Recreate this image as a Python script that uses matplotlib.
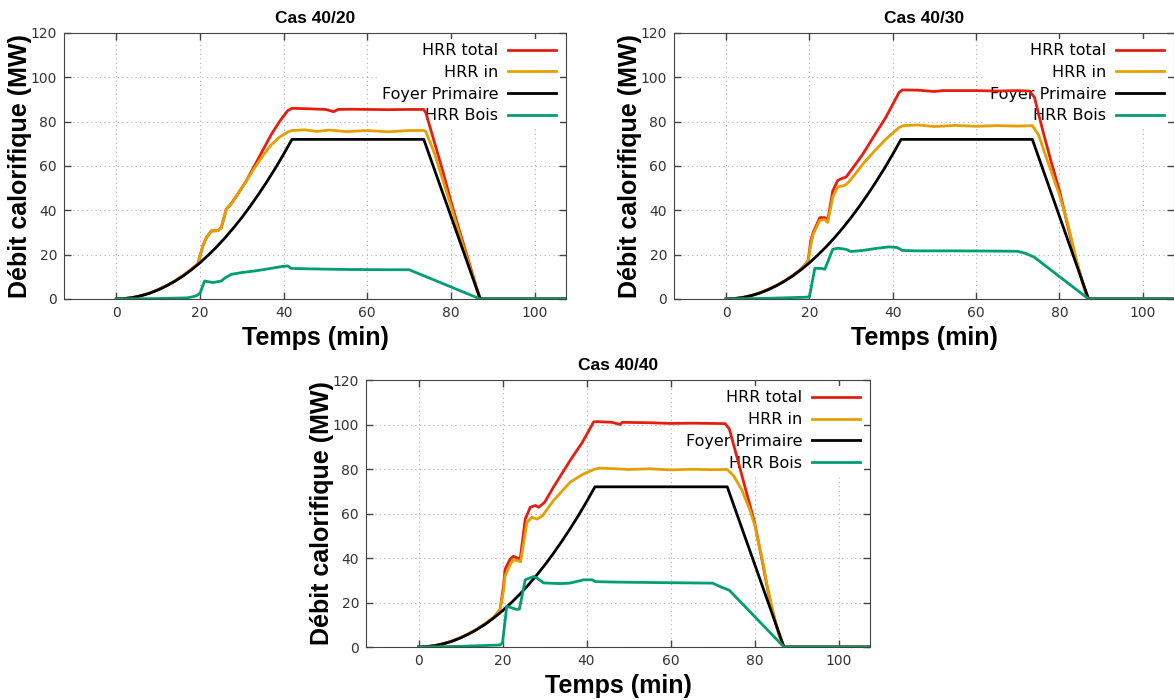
import matplotlib
matplotlib.use('Agg')
import matplotlib.pyplot as plt

# Foyer primaire : same design fire in the three cases
foyer_t = [0, 2, 4, 6, 8, 10, 12, 14, 16, 18, 20, 22, 24, 26, 28, 30, 32, 34, 36, 38, 40, 42, 73.5, 87, 108]
foyer = [0, 0.16, 0.65, 1.5, 2.6, 4.1, 5.9, 8.0, 10.4, 13.2, 16.3, 19.8, 23.5, 27.6, 32.0, 36.7, 41.8, 47.2, 52.9, 58.9, 65.3, 72, 72, 0, 0]

# start of HRR total / HRR in (follows the foyer curve before the wood ignites)
early_t = [0, 2, 4, 6, 8, 10, 12, 14, 16, 18]
early = [0, 0.2, 0.7, 1.5, 2.7, 4.2, 6.0, 8.1, 10.6, 13.5]

# Cas 40/20
tot20_t = early_t + [19.5, 20.7, 21.5, 22.7, 24.3, 25.1, 26.3, 27.5, 29, 31, 33, 35, 37, 39, 41, 42,
                     46, 50, 52, 53, 56, 60, 65, 70, 73.5, 74, 76, 78, 80, 82, 84, 86, 87, 108]
tot20 = early + [15.8, 24, 27.5, 30.7, 30.8, 32.2, 40.5, 43, 47.2, 53, 60, 67, 74, 80, 85, 86,
                 85.8, 85.5, 84.5, 85.5, 85.6, 85.5, 85.4, 85.5, 85.5, 84, 71, 58, 44, 31, 18.5, 6, 0, 0]
in20_t = early_t + [19.5, 20.7, 21.5, 22.7, 24.3, 25.1, 26.3, 27.5, 29, 31, 33, 35, 37, 39, 41, 42,
                    45, 48, 51, 55, 60, 65, 70, 73.5, 74, 76, 78, 80, 82, 84, 86, 87, 108]
in20 = early + [15.8, 24, 27.5, 30.7, 30.8, 32.2, 40.5, 43, 47.2, 53, 59, 64.5, 69.5, 73, 75.3, 76,
                76.3, 75.6, 76.2, 75.5, 76, 75.4, 76, 76, 75.5, 66, 54, 42, 29.5, 17.5, 5.5, 0, 0]
bois20_t = [0, 10, 17, 19, 20, 21.1, 23.1, 25.1, 26, 27.5, 29.9, 33, 37, 39.4, 41, 41.8, 45.7, 55, 65, 70, 87, 108]
bois20 = [0, 0.2, 0.5, 1.3, 2.5, 8.1, 7.4, 8.1, 9.5, 11.1, 11.9, 12.6, 13.8, 14.6, 14.9, 13.8, 13.6, 13.3, 13.2, 13.2, 0, 0]

# Cas 40/30
tot30_t = early_t + [19.7, 20.3, 20.9, 22.5, 23.7, 24.4, 25.6, 26.8, 28, 28.8, 30, 32.8, 35.5, 38.3, 41.5, 42.3,
                     46, 50, 52, 60, 65, 70, 72.8, 74, 76, 78, 80, 82, 84, 86, 86.8, 108]
tot30 = early + [17.1, 26, 30, 36.7, 36.7, 35.5, 48.7, 53.5, 54.5, 55, 58, 65.3, 73.5, 81.8, 93.1, 94.3,
                 94.2, 93.6, 94, 94, 93.8, 94, 93.8, 91, 76, 62, 49, 33, 17.5, 4.5, 0, 0]
in30_t = early_t + [19.7, 20.3, 20.9, 22.5, 23.7, 24.4, 25.6, 26.8, 28, 28.8, 30, 32.8, 35.5, 38.3, 41.5, 42.5,
                    46, 50, 55, 60, 65, 70, 73.5, 75, 77, 80, 82, 84, 86, 86.8, 108]
in30 = early + [17.1, 24, 29.2, 35.5, 35.8, 34.5, 46, 50.5, 51, 51.6, 54, 60.8, 66.5, 72, 77.3, 78.2,
                78.5, 77.8, 78.3, 77.9, 78.2, 78, 78.2, 74, 63, 47, 34, 18, 4.5, 0, 0]
bois30_t = [0, 10, 19.3, 20, 21.3, 22.9, 23.7, 25.6, 26.8, 28.8, 29.9, 32.8, 36, 39.1, 41.1, 42.3, 45.5, 55, 65, 70, 72, 74, 87, 108]
bois30 = [0, 0.3, 0.8, 1, 13.8, 13.8, 13.4, 22.4, 22.9, 22.4, 21.4, 21.9, 22.8, 23.5, 23.2, 21.9, 21.7, 21.7, 21.6, 21.5, 20.5, 18.8, 0, 0]

# Cas 40/40
tot40_t = early_t + [19.4, 20.2, 20.6, 21.8, 22.6, 23.3, 24.2, 25.4, 26.6, 27.8, 28.6, 30, 32.1, 36.1, 39, 41.7, 42.5,
                     46, 48, 48.5, 55, 60, 65, 70, 73, 74, 76, 78, 79, 80, 82, 83, 84, 85, 86, 87, 108]
tot40 = early + [16.8, 27, 34.9, 39.5, 40.8, 40.2, 39.5, 57.5, 62.8, 63.6, 62.8, 65, 71.8, 83.9, 92, 101.2, 101.3,
                 101, 100, 101, 100.8, 100.5, 100.6, 100.5, 100.4, 98, 84, 70, 63, 56, 37, 27, 18.5, 11, 4.5, 0, 0]
in40_t = early_t + [19.4, 20.2, 20.6, 21.8, 22.6, 23.8, 24.3, 25.8, 27, 28.2, 29.5, 32.1, 36.1, 39, 41.7, 43,
                    46, 50, 55, 60, 65, 70, 73.5, 75, 77, 79, 80, 82, 83, 84, 85, 86, 87, 108]
in40 = early + [16.8, 25, 31.9, 37, 39.2, 38.7, 38.3, 56, 58.3, 57.5, 59, 65.8, 74.1, 77.5, 79.8, 80.4,
                80.2, 79.8, 80.1, 79.6, 79.9, 79.7, 79.8, 77, 70.5, 61, 55, 38, 27.5, 19, 11, 4.5, 0, 0]
bois40_t = [0, 10, 19.4, 20, 21, 22.2, 23.3, 24, 25.4, 27.4, 28.2, 29.8, 33.7, 36, 39.3, 41.3, 42.1, 46.4, 55, 65, 70, 72, 74, 87, 108]
bois40 = [0, 0.3, 0.9, 2, 18.3, 17.6, 16.9, 17, 30.2, 31.7, 31, 28.8, 28.5, 28.7, 30.2, 30.2, 29.4, 29.2, 29, 28.8, 28.7, 27, 25.5, 0, 0]

label_font = 'Liberation Sans'


def draw_case(ax, title, tot_t, tot, in_t, hrr_in, bois_t, bois):
    ax.plot(tot_t, tot, color='#e51e10', lw=2, label='HRR total')
    ax.plot(in_t, hrr_in, color='#e69f00', lw=2, label='HRR in')
    ax.plot(foyer_t, foyer, color='black', lw=2, label='Foyer Primaire')
    ax.plot(bois_t, bois, color='#009e73', lw=2, label='HRR Bois')

    ax.set_xlim(-12.5, 107.5)
    ax.set_ylim(0, 120)
    ax.set_xticks(range(0, 101, 20))
    ax.set_yticks(range(0, 121, 20))
    ax.grid(True, color='#b0b0b0', linestyle=(0, (1, 3)), lw=0.8)
    ax.set_axisbelow(True)
    ax.tick_params(direction='in', top=True, right=True, length=5, width=1,
                   labelsize=10, labelcolor='#333333', color='#444444', pad=5)
    for s in ax.spines.values():
        s.set_color('#444444')

    ax.set_title(title, fontsize=12.5, fontweight='bold', family=label_font, pad=7)
    ax.set_xlabel('Temps (min)', fontsize=18, fontweight='bold', family=label_font)
    ax.set_ylabel('Débit calorifique (MW)', fontsize=18, fontweight='bold', family=label_font)
    ax.xaxis.set_label_coords(0.5, -0.1)
    ax.yaxis.set_label_coords(-0.063, 0.5)

    # key on the right, labels right aligned, lines drawn over it
    leg = ax.legend(loc='upper right', markerfirst=False, facecolor='white', edgecolor='none',
                    framealpha=1, fontsize=11.5, handlelength=3, handletextpad=0.6,
                    labelspacing=0.42, borderaxespad=0.35, borderpad=0.3, fancybox=False)
    leg.set_zorder(1)


fig = plt.figure(figsize=(11.74, 7), dpi=100)
ax1 = fig.add_axes([0.0545, 0.5729, 0.4276, 0.38])
ax2 = fig.add_axes([0.5741, 0.5729, 0.4259, 0.38])
ax3 = fig.add_axes([0.3118, 0.0757, 0.4293, 0.3814])

draw_case(ax1, 'Cas 40/20', tot20_t, tot20, in20_t, in20, bois20_t, bois20)
draw_case(ax2, 'Cas 40/30', tot30_t, tot30, in30_t, in30, bois30_t, bois30)
draw_case(ax3, 'Cas 40/40', tot40_t, tot40, in40_t, in40, bois40_t, bois40)

fig.savefig('out.png', dpi=100)
